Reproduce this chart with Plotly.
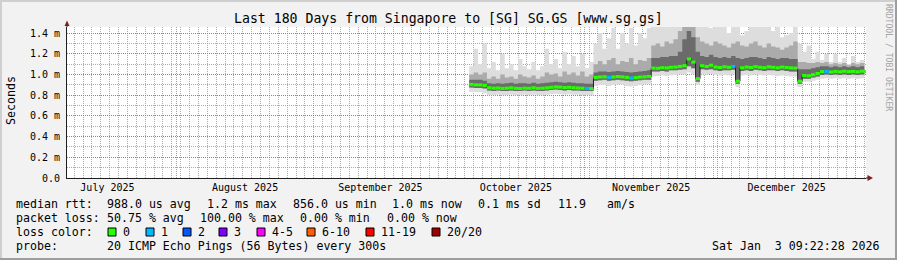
import plotly.graph_objects as go
import pandas as pd

# ---------------- data (ms) ----------------
start_day = "2025-10-06"
median = [0.905, 0.900, 0.900, 0.895,
          0.872, 0.868, 0.870, 0.866, 0.868, 0.872, 0.867, 0.865, 0.869, 0.867,
          0.872, 0.866, 0.868, 0.871, 0.876, 0.880, 0.878, 0.874, 0.876, 0.872,
          0.870, 0.868, 0.866, 0.864,
          0.972, 0.976, 0.978, 0.972, 0.976, 0.980, 0.977, 0.972, 0.966, 0.970,
          0.975, 0.978, 0.982,
          1.062, 1.060, 1.066, 1.064, 1.070, 1.072, 1.078, 1.085, 1.150, 1.120,
          0.960, 1.085, 1.078, 1.090, 1.072, 1.068, 1.075, 1.070, 1.078, 0.935,
          1.065, 1.072, 1.068, 1.076, 1.070, 1.066, 1.074, 1.070, 1.065, 1.072,
          1.068, 1.064, 1.062,
          0.935, 0.990, 0.988, 0.998, 1.010, 1.028, 1.030, 1.024, 1.030, 1.026,
          1.032, 1.028, 1.030, 1.026, 1.032, 1.028]
loss = [0, 0, 0, 0,
        0, 0, 0, 0, 0, 0, 0, 0, 0, 0, 0, 0, 0, 0, 0, 0, 0, 0, 0, 0, 0, 0, 1, 0,
        0, 0, 0, 1, 0, 0, 0, 0, 1, 0, 0, 0, 0,
        0, 0, 0, 0, 0, 0, 0, 0, 0, 0, 0, 0, 0, 0, 0, 0, 0, 0, 1, 0,
        0, 0, 0, 0, 0, 0, 0, 0, 0, 0, 0, 0, 0,
        0, 0, 0, 0, 0, 0, 1, 0, 0, 0, 0, 0, 0, 0, 0, 0]
p_max = [1.08, 1.25, 1.10, 1.30,
         1.06, 1.12, 1.04, 1.20, 1.06, 1.10, 1.04, 1.15, 1.08, 1.05, 1.12, 1.04,
         1.08, 1.25, 1.10, 1.15, 1.06, 1.22, 1.10, 1.18, 1.08, 1.20, 1.06, 1.12,
         1.30, 1.40, 1.25, 1.35, 1.45, 1.25, 1.40, 1.30, 1.45, 1.28, 1.40, 1.35, 1.45,
         1.50, 1.50, 1.50, 1.50, 1.50, 1.50, 1.50, 1.50, 1.50, 1.50, 1.50, 1.50,
         1.50, 1.45, 1.50, 1.50, 1.50, 1.40, 1.50, 1.50, 1.38, 1.42, 1.50, 1.50,
         1.50, 1.50, 1.50, 1.42, 1.50, 1.36, 1.38, 1.40, 1.50,
         1.30, 1.22, 1.28, 1.15, 1.22, 1.14, 1.20, 1.12, 1.20, 1.12, 1.16, 1.10,
         1.18, 1.12, 1.14, 1.10]
p_mid = [1.00, 1.02, 1.00, 1.02,
         0.96, 0.98, 0.96, 1.00, 0.97, 0.98, 0.96, 1.00, 0.98, 0.97, 0.99, 0.96,
         0.98, 1.02, 1.00, 1.01, 0.98, 1.03, 1.00, 1.02, 0.99, 1.03, 0.98, 1.00,
         1.10, 1.13, 1.10, 1.14, 1.16, 1.10, 1.13, 1.12, 1.16, 1.10, 1.14, 1.13, 1.16,
         1.28, 1.30, 1.27, 1.32, 1.30, 1.34, 1.42, 1.50, 1.50, 1.46, 1.36, 1.32,
         1.30, 1.28, 1.32, 1.30, 1.28, 1.26, 1.30, 1.32, 1.28, 1.27, 1.30, 1.32,
         1.28, 1.26, 1.30, 1.27, 1.26, 1.24, 1.26, 1.28, 1.32,
         1.12, 1.12, 1.11, 1.11, 1.12, 1.11, 1.12, 1.10, 1.11, 1.10, 1.11, 1.09,
         1.11, 1.10, 1.11, 1.09]
p_hi = [0.95, 0.95, 0.95, 0.94,
        0.915, 0.91, 0.915, 0.91, 0.915, 0.92, 0.91, 0.915, 0.915, 0.91, 0.92, 0.91,
        0.915, 0.92, 0.925, 0.93, 0.925, 0.92, 0.925, 0.92, 0.915, 0.915, 0.91, 0.91,
        1.02, 1.03, 1.03, 1.025, 1.03, 1.035, 1.03, 1.025, 1.02, 1.025, 1.03, 1.035, 1.04,
        1.16, 1.16, 1.17, 1.17, 1.18, 1.18, 1.22, 1.34, 1.42, 1.36, 1.22, 1.18,
        1.17, 1.19, 1.17, 1.16, 1.17, 1.16, 1.18, 1.16, 1.15, 1.16, 1.17, 1.17,
        1.16, 1.15, 1.17, 1.16, 1.15, 1.16, 1.16, 1.15, 1.15,
        1.05, 1.05, 1.05, 1.06, 1.07, 1.08, 1.08, 1.07, 1.08, 1.07, 1.08, 1.07,
        1.08, 1.07, 1.08, 1.07]
p_lo = [0.875, 0.87, 0.87, 0.865,
        0.845, 0.84, 0.845, 0.84, 0.84, 0.845, 0.84, 0.84, 0.845, 0.84, 0.845, 0.84,
        0.84, 0.845, 0.85, 0.855, 0.85, 0.845, 0.85, 0.845, 0.845, 0.84, 0.84, 0.84,
        0.94, 0.945, 0.95, 0.94, 0.945, 0.95, 0.945, 0.94, 0.935, 0.94, 0.945, 0.95, 0.95,
        1.03, 1.03, 1.035, 1.03, 1.04, 1.04, 1.045, 1.05, 1.08, 1.06, 0.93, 1.05,
        1.045, 1.05, 1.04, 1.035, 1.04, 1.04, 1.045, 0.91, 1.035, 1.04, 1.035, 1.045,
        1.04, 1.035, 1.04, 1.04, 1.035, 1.04, 1.035, 1.03, 1.03,
        0.91, 0.96, 0.96, 0.97, 0.98, 0.995, 1.0, 0.995, 1.0, 0.995, 1.0, 0.995,
        1.0, 0.995, 1.0, 0.995]
p_min = [0.83, 0.83, 0.83, 0.82,
         0.80, 0.80, 0.805, 0.80, 0.80, 0.805, 0.80, 0.80, 0.805, 0.80, 0.805, 0.80,
         0.80, 0.805, 0.81, 0.815, 0.81, 0.805, 0.81, 0.805, 0.805, 0.80, 0.80, 0.80,
         0.89, 0.90, 0.90, 0.89, 0.90, 0.905, 0.90, 0.89, 0.885, 0.89, 0.90, 0.905, 0.91,
         0.98, 0.985, 0.99, 0.985, 0.99, 0.995, 1.0, 1.0, 1.02, 1.0, 0.90, 1.0,
         1.0, 1.005, 0.995, 0.99, 0.995, 0.99, 1.0, 0.88, 0.99, 0.995, 0.99, 1.0,
         0.995, 0.99, 0.995, 0.99, 0.985, 0.99, 0.985, 0.98, 0.98,
         0.88, 0.93, 0.93, 0.94, 0.95, 0.96, 0.965, 0.96, 0.965, 0.96, 0.965, 0.96,
         0.965, 0.96, 0.965, 0.96]

y_tickvals = [0.0, 0.2, 0.4, 0.6, 0.8, 1.0, 1.2, 1.4]
y_ticktext = ["0.0", "0.2 m", "0.4 m", "0.6 m", "0.8 m", "1.0 m", "1.2 m", "1.4 m"]

title = "Last 180 Days from Singapore to [SG] SG.GS [www.sg.gs]"
rtt_items = ["median rtt:", "988.0 us avg", "1.2 ms max", "856.0 us min",
             "1.0 ms now", "0.1 ms sd", "11.9", "am/s"]
loss_items = ["packet loss:", "50.75 % avg", "100.00 % max", "0.00 % min", "0.00 % now"]
loss_labels = ["0", "1", "2", "3", "4-5", "6-10", "11-19", "20/20"]
loss_colors = ["#26ff00", "#00b8ff", "#0059ff", "#7e00ff", "#ff00ff", "#ff5e00", "#ff0000", "#a10000"]
loss_bounds = [0, 1, 2, 3, 5, 10, 19, 20]
probe_items = ["probe:", "20 ICMP Echo Pings (56 Bytes) every 300s"]
stamp = "Sat Jan  3 09:22:28 2026"

# ---------------- geometry helpers ----------------
W, H = 897, 260
PL, PR, PT, PB = 67, 866, 27, 178


def px(x):
    return (x - PL) / (PR - PL)


def py(y):
    return (PB - y) / (PB - PT)


dates = pd.date_range(start=start_day, periods=len(median), freq="D")
n = len(median)

fig = go.Figure()

# smoke layers
for lo, hi, col in [(p_min, p_max, "#dddddd"), (p_lo, p_mid, "#ababab"), (p_lo, p_hi, "#6b6b6b")]:
    fig.add_trace(go.Scatter(x=dates, y=lo, mode="lines", line=dict(width=0, shape="hv"),
                             hoverinfo="skip"))
    fig.add_trace(go.Scatter(x=dates, y=hi, mode="lines", line=dict(width=0, shape="hv"),
                             fill="tonexty", fillcolor=col, hoverinfo="skip"))

# thin dark median
fig.add_trace(go.Scatter(x=dates, y=median, mode="lines",
                         line=dict(color="#202020", width=1, shape="hv")))


def bucket(v):
    for i, b in enumerate(loss_bounds):
        if v <= b:
            return i
    return len(loss_bounds) - 1


for bi, col in enumerate(loss_colors):
    xs, ys = [], []
    for i in range(n):
        if bucket(loss[i]) == bi:
            x_end = dates[i + 1] if i + 1 < n else dates[i] + pd.Timedelta(hours=9)
            xs += [dates[i], x_end, None]
            ys += [median[i], median[i], None]
    if xs:
        fig.add_trace(go.Scatter(x=xs, y=ys, mode="lines", line=dict(color=col, width=3)))

GRID = "rgba(143,143,143,0.75)"
MGRID = "rgba(222,79,79,0.7)"
FONT = "DejaVu Sans Mono"

fig.update_layout(
    width=W, height=H,
    margin=dict(l=PL, r=W - PR, t=PT, b=H - PB, pad=0),
    paper_bgcolor="#f2f2f2", plot_bgcolor="#ffffff",
    showlegend=False,
    font=dict(family=FONT, size=10, color="#000000"),
    xaxis=dict(
        type="date",
        range=["2025-07-07 09:22:28", "2026-01-03 09:22:28"],
        tick0="2025-01-01", dtick="M1", ticklabelmode="period", tickformat="%B %Y",
        showgrid=True, gridcolor=MGRID, griddash="1px,1px", gridwidth=1,
        minor=dict(dtick=2 * 86400000, tick0="2025-07-07", showgrid=True,
                   gridcolor=GRID, griddash="1px,1px", gridwidth=1),
        showline=True, linecolor="#1f1f1f", linewidth=1, zeroline=False,
        ticks="", tickfont=dict(family=FONT, size=10),
    ),
    yaxis=dict(
        range=[0, 1.459],
        tickvals=y_tickvals, ticktext=y_ticktext,
        showgrid=True, gridcolor=MGRID, griddash="1px,1px", gridwidth=1,
        minor=dict(dtick=0.1, tick0=0, showgrid=True, gridcolor=GRID,
                   griddash="1px,1px", gridwidth=1),
        showline=True, linecolor="#1f1f1f", linewidth=1, zeroline=False,
        ticks="outside", ticklen=4, tickcolor="rgba(0,0,0,0)",
        tickfont=dict(family=FONT, size=10),
    ),
)

ann = []


def text(x, y, s, size=11.6, anchor="left", color="#000000", angle=0):
    ann.append(dict(xref="paper", yref="paper", x=px(x), y=py(y), text=s,
                    showarrow=False, xanchor=anchor, yanchor="middle",
                    font=dict(family=FONT, size=size, color=color),
                    textangle=angle, borderpad=0, borderwidth=0))


text(448, 18.5, title, size=13.2, anchor="center")
text(11, 101, "Seconds", size=11.6, anchor="center", angle=-90)
text(889, 57, "RRDTOOL / TOBI OETIKER", size=8.1, anchor="center", color="#a4a4a4", angle=90)

rtt_x = [16, 107, 207, 293, 392, 478, 558, 607]
for s, x in zip(rtt_items, rtt_x):
    text(x, 204, s)
loss_x = [16, 107, 200, 300, 387]
for s, x in zip(loss_items, loss_x):
    text(x, 218, s)
text(16, 232, "loss color:")
sq_x = [108, 146, 183, 219, 257, 307, 366, 432]
shapes = []
for s, x, c in zip(loss_labels, sq_x, loss_colors):
    shapes.append(dict(type="rect", xref="paper", yref="paper",
                       x0=px(x), x1=px(x + 8), y0=py(236), y1=py(228),
                       fillcolor=c, line=dict(color="#000000", width=1)))
    text(x + 15, 232, s)
text(16, 246, probe_items[0])
text(107, 246, probe_items[1])
text(880, 246, stamp, anchor="right")

# 3D border
shapes += [
    dict(type="rect", xref="paper", yref="paper", x0=px(0), x1=px(W), y0=py(0), y1=py(2),
         fillcolor="#cfcfcf", line=dict(width=0), layer="below"),
    dict(type="rect", xref="paper", yref="paper", x0=px(0), x1=px(2), y0=py(0), y1=py(H),
         fillcolor="#cfcfcf", line=dict(width=0), layer="below"),
    dict(type="rect", xref="paper", yref="paper", x0=px(0), x1=px(W), y0=py(H - 2), y1=py(H),
         fillcolor="#9e9e9e", line=dict(width=0), layer="below"),
    dict(type="rect", xref="paper", yref="paper", x0=px(W - 2), x1=px(W), y0=py(0), y1=py(H),
         fillcolor="#9e9e9e", line=dict(width=0), layer="below"),
]
# axis arrows
ARROW = "#801f1f"
shapes.append(dict(type="path", xref="paper", yref="paper",
                   path=f"M {px(64.5)},{py(26)} L {px(69.5)},{py(26)} L {px(67)},{py(20.5)} Z",
                   fillcolor=ARROW, line=dict(color=ARROW, width=0)))
shapes.append(dict(type="line", xref="paper", yref="paper", x0=px(67), x1=px(67),
                   y0=py(26), y1=py(27), line=dict(color="#1f1f1f", width=1)))
shapes.append(dict(type="path", xref="paper", yref="paper",
                   path=f"M {px(867.5)},{py(175)} L {px(867.5)},{py(181)} L {px(873)},{py(178)} Z",
                   fillcolor=ARROW, line=dict(color=ARROW, width=0)))
shapes.append(dict(type="line", xref="paper", yref="paper", x0=px(866), x1=px(868),
                   y0=py(178), y1=py(178), line=dict(color="#1f1f1f", width=1)))

fig.update_layout(annotations=ann, shapes=shapes)
fig.write_html("out.html")
